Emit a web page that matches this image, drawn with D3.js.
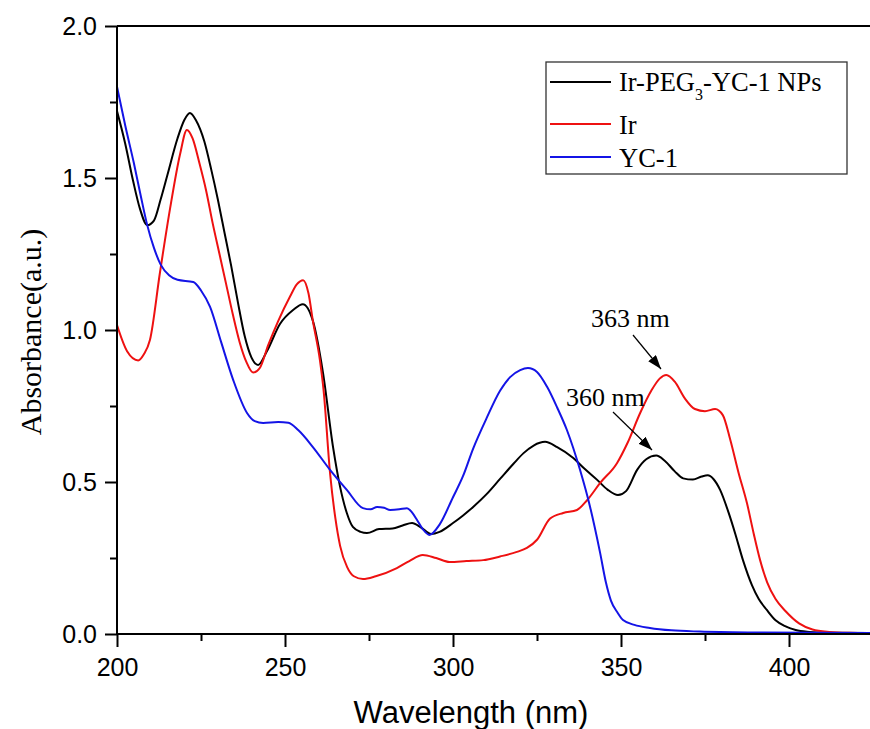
<!doctype html>
<html lang="en">

<head>
    <meta charset="utf-8">
    <script src="https://d3js.org/d3.v7.min.js"></script>
    <style>
        body { margin: 0; background: #fff; }
        .tick text { font-family: Arial, "Liberation Sans", sans-serif; font-size: 25px; fill: #000; }
        .serif { font-family: "Times New Roman", "Liberation Serif", serif; fill: #000; }
    </style>
</head>

<body>
    <div id="chart"></div>

    <script>
        // series (wavelength nm / absorbance a.u.)
        var npWl = [200, 202.4, 204.8, 206.8, 209, 211, 213, 215, 218, 220, 221.7, 223.5, 226, 228, 230, 232, 234, 236, 238, 240, 242, 244.6, 248.5, 252.4, 255.3, 258.3, 261.3, 264.3, 266.4, 268.4, 270.2, 272.5, 274.4, 278, 282, 285, 287.8, 290.5, 293.5, 296, 300, 303, 306, 310, 314, 318, 321, 324, 327.4, 331, 335.8, 339, 342.9, 346, 349.1, 351.5, 354.8, 357.5, 360.5, 363, 366, 368.5, 371.4, 374, 375.8, 377.5, 379.5, 382, 384, 386.3, 389, 391, 393.4, 396, 399, 402, 406, 412, 425];
        var npAbs = [1.72, 1.615, 1.49, 1.40, 1.345, 1.36, 1.43, 1.51, 1.63, 1.69, 1.714, 1.69, 1.62, 1.53, 1.43, 1.32, 1.21, 1.09, 0.98, 0.91, 0.885, 0.93, 1.02, 1.066, 1.085, 1.03, 0.86, 0.615, 0.484, 0.398, 0.352, 0.336, 0.332, 0.345, 0.347, 0.357, 0.365, 0.35, 0.329, 0.336, 0.365, 0.39, 0.418, 0.46, 0.51, 0.56, 0.595, 0.62, 0.632, 0.615, 0.579, 0.545, 0.507, 0.475, 0.457, 0.47, 0.54, 0.575, 0.587, 0.57, 0.535, 0.512, 0.508, 0.518, 0.522, 0.51, 0.474, 0.40, 0.33, 0.243, 0.16, 0.115, 0.079, 0.045, 0.025, 0.013, 0.007, 0.004, 0.003];

        var irWl = [200, 203, 206.3, 208, 209.8, 212.8, 215.8, 218.8, 220.8, 222.5, 224.5, 226.5, 228.5, 230.5, 232.5, 234.5, 236.5, 238.5, 240.5, 242.5, 245, 248, 251.5, 253.5, 255.4, 257, 258.3, 260.4, 261.5, 263.4, 265, 266.4, 268.5, 270.5, 273.2, 277, 283.3, 287, 291, 295, 299, 304, 309, 314, 319, 322, 325, 328.9, 332.8, 336.9, 339.9, 343.8, 348.8, 352, 355.7, 359, 361.5, 363.5, 366, 369, 372, 375, 378, 380.3, 382.5, 385, 387.5, 389.5, 391.4, 393.5, 396, 399, 403, 407, 412, 418, 425];
        var irAbs = [1.016, 0.93, 0.90, 0.92, 0.967, 1.19, 1.40, 1.58, 1.658, 1.63, 1.55, 1.46, 1.35, 1.25, 1.15, 1.05, 0.96, 0.895, 0.86, 0.875, 0.95, 1.03, 1.11, 1.15, 1.164, 1.12, 1.03, 0.90, 0.80, 0.53, 0.38, 0.29, 0.22, 0.19, 0.181, 0.19, 0.217, 0.24, 0.26, 0.25, 0.237, 0.24, 0.243, 0.255, 0.27, 0.283, 0.31, 0.38, 0.398, 0.408, 0.44, 0.497, 0.562, 0.63, 0.727, 0.80, 0.84, 0.852, 0.83, 0.775, 0.74, 0.733, 0.74, 0.72, 0.64, 0.53, 0.43, 0.33, 0.243, 0.17, 0.115, 0.075, 0.035, 0.015, 0.007, 0.004, 0.003];

        var ycWl = [200, 202.5, 205, 207, 209, 211, 213, 215.5, 218, 222.7, 225, 227.7, 231, 234.6, 238.7, 241, 243.5, 248, 251, 254, 258.3, 263.4, 268.4, 273.2, 275.5, 277.4, 279.5, 281.3, 284, 286.3, 287.8, 289.3, 291, 293, 296, 300, 303, 306, 310, 314, 317, 320, 322.3, 325, 328, 331, 333.9, 337.8, 340.8, 343.8, 345.5, 347, 349, 350.6, 354, 358.6, 365, 373.5, 390, 425];
        var ycAbs = [1.80, 1.67, 1.55, 1.445, 1.345, 1.27, 1.215, 1.18, 1.165, 1.158, 1.13, 1.076, 0.96, 0.835, 0.727, 0.70, 0.694, 0.697, 0.695, 0.67, 0.615, 0.54, 0.474, 0.414, 0.41, 0.418, 0.415, 0.408, 0.41, 0.414, 0.40, 0.375, 0.345, 0.326, 0.36, 0.45, 0.52, 0.61, 0.71, 0.80, 0.845, 0.868, 0.875, 0.862, 0.813, 0.745, 0.671, 0.54, 0.418, 0.266, 0.17, 0.11, 0.07, 0.046, 0.03, 0.02, 0.012, 0.008, 0.005, 0.003];

        var xTicks = [200, 250, 300, 350, 400];
        var xMinor = [225, 275, 325, 375, 425];
        var yTicks = [0, 0.5, 1.0, 1.5, 2.0];
        var yMinor = [0.25, 0.75, 1.25, 1.75];

        var width = 870, height = 729;
        var x = d3.scaleLinear().domain([200, 425]).range([117, 873]);
        var y = d3.scaleLinear().domain([0, 2]).range([634, 26]);

        var svg = d3.select("#chart").append("svg")
            .attr("width", width)
            .attr("height", height);

        svg.append("defs").append("clipPath").attr("id", "plot")
            .append("rect").attr("x", 117).attr("y", 26).attr("width", 760).attr("height", 608);

        svg.append("defs").append("marker")
            .attr("id", "head")
            .attr("markerUnits", "userSpaceOnUse")
            .attr("viewBox", "0 0 14 10")
            .attr("refX", 14).attr("refY", 5)
            .attr("markerWidth", 14).attr("markerHeight", 10)
            .attr("orient", "auto")
            .append("path").attr("d", "M0,0 L14,5 L0,10 Z").attr("fill", "#000");

        // curves
        var series = [
            { name: "np", wl: npWl, abs: npAbs, color: "#000000" },
            { name: "ir", wl: irWl, abs: irAbs, color: "#ee1111" },
            { name: "yc", wl: ycWl, abs: ycAbs, color: "#1414e6" }
        ];

        var line = d3.line()
            .x(d => x(d[0]))
            .y(d => y(d[1]))
            .curve(d3.curveMonotoneX);

        svg.append("g").attr("clip-path", "url(#plot)")
            .selectAll("path")
            .data(series)
            .join("path")
            .attr("fill", "none")
            .attr("stroke", d => d.color)
            .attr("stroke-width", 2)
            .attr("d", d => line(d.wl.map((w, i) => [w, d.abs[i]])));

        // axes
        svg.append("g")
            .attr("class", "x-axis")
            .attr("transform", "translate(0,634)")
            .call(d3.axisBottom(x).tickValues(xTicks).tickSize(13).tickPadding(11).tickFormat(d3.format("d")));
        svg.append("g")
            .attr("transform", "translate(0,634)")
            .call(d3.axisBottom(x).tickValues(xMinor).tickSize(7).tickFormat(""))
            .select(".domain").remove();

        svg.append("g")
            .attr("class", "y-axis")
            .attr("transform", "translate(117,0)")
            .call(d3.axisLeft(y).tickValues(yTicks).tickSize(12).tickPadding(8).tickFormat(d3.format(".1f")));
        svg.append("g")
            .attr("transform", "translate(117,0)")
            .call(d3.axisLeft(y).tickValues(yMinor).tickSize(7).tickFormat(""))
            .select(".domain").remove();

        // plain axis lines without the end caps
        svg.select(".x-axis .domain").attr("d", "M117,0H873").attr("stroke-width", 2);
        svg.select(".y-axis .domain").attr("d", "M0,634V26").attr("stroke-width", 2);
        svg.selectAll(".tick line").attr("stroke-width", 2);

        // top frame
        svg.append("line")
            .attr("x1", 117).attr("x2", 873)
            .attr("y1", y(2)).attr("y2", y(2))
            .attr("stroke", "#000").attr("stroke-width", 2);

        // axis titles
        svg.append("text")
            .attr("x", 471).attr("y", 723)
            .attr("text-anchor", "middle")
            .style("font-family", "Arial, 'Liberation Sans', sans-serif")
            .style("font-size", "31px")
            .text("Wavelength (nm)");

        svg.append("text")
            .attr("class", "serif")
            .attr("transform", "translate(41,332) rotate(-90)")
            .attr("text-anchor", "middle")
            .style("font-size", "30px")
            .text("Absorbance(a.u.)");

        // legend
        var legend = svg.append("g");
        legend.append("rect")
            .attr("x", 546).attr("y", 62).attr("width", 301).attr("height", 112)
            .attr("fill", "#fff").attr("stroke", "#333").attr("stroke-width", 1.3);

        var legendY = [82, 124, 157];
        var legendBase = [91, 134, 167];
        legend.selectAll(".lg-line")
            .data(series)
            .join("line")
            .attr("class", "lg-line")
            .attr("x1", 550).attr("x2", 611)
            .attr("y1", (d, i) => legendY[i]).attr("y2", (d, i) => legendY[i])
            .attr("stroke", d => d.color).attr("stroke-width", 2);

        var t1 = legend.append("text").attr("class", "serif")
            .attr("x", 619).attr("y", legendBase[0]).style("font-size", "26.5px");
        t1.append("tspan").text("Ir-PEG");
        t1.append("tspan").attr("dy", 9).style("font-size", "16px").text("3");
        t1.append("tspan").attr("dy", -9).text("-YC-1 NPs");

        legend.append("text").attr("class", "serif")
            .attr("x", 619).attr("y", legendBase[1]).style("font-size", "26.5px").text("Ir");
        legend.append("text").attr("class", "serif")
            .attr("x", 619).attr("y", legendBase[2]).style("font-size", "26.5px").text("YC-1");

        // peak annotations
        svg.append("text").attr("class", "serif")
            .attr("x", 591).attr("y", 327).style("font-size", "26px").text("363 nm");
        svg.append("line")
            .attr("x1", 633).attr("y1", 335).attr("x2", 661).attr("y2", 369)
            .attr("stroke", "#000").attr("stroke-width", 1.2)
            .attr("marker-end", "url(#head)");

        svg.append("text").attr("class", "serif")
            .attr("x", 566).attr("y", 406).style("font-size", "26px").text("360 nm");
        svg.append("line")
            .attr("x1", 613).attr("y1", 412).attr("x2", 652).attr("y2", 450)
            .attr("stroke", "#000").attr("stroke-width", 1.2)
            .attr("marker-end", "url(#head)");
    </script>
</body>

</html>
